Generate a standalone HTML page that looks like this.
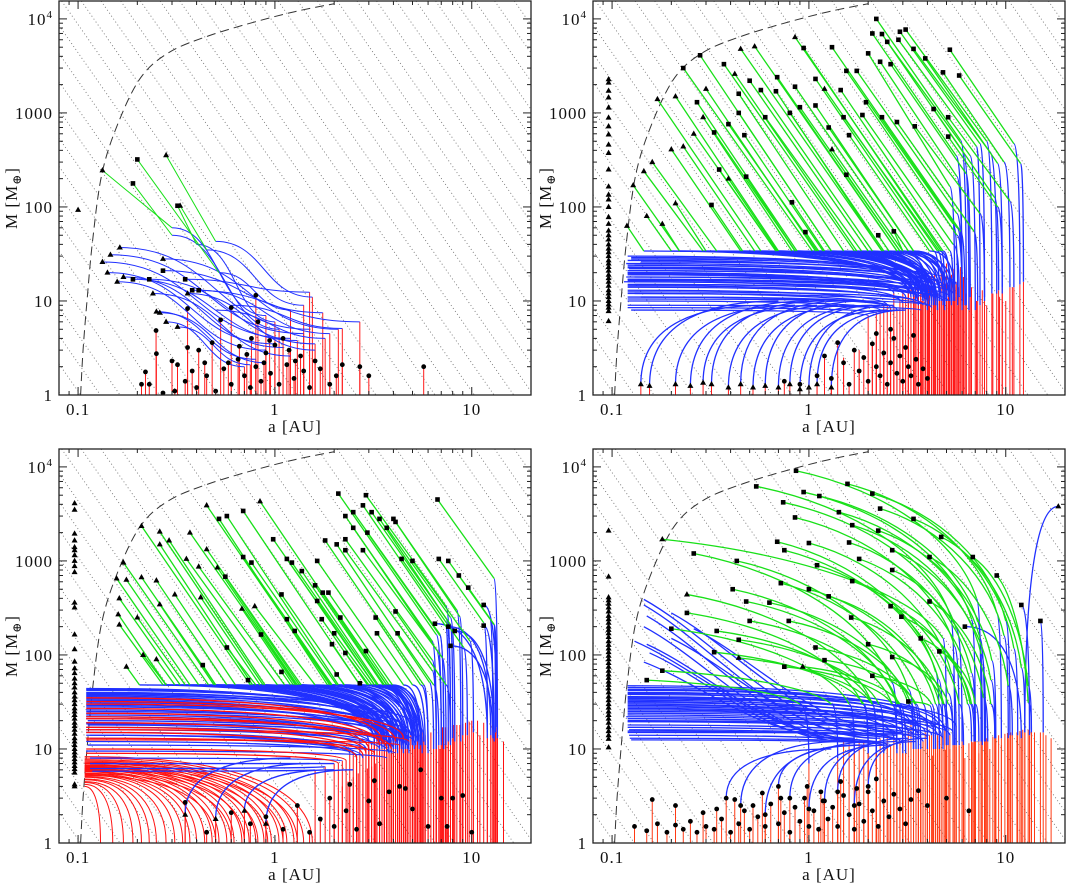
<!DOCTYPE html>
<html><head><meta charset="utf-8"><style>
html,body{margin:0;padding:0;background:#fff;width:1067px;height:888px;overflow:hidden;}
svg{display:block;}
text{font-family:"Liberation Serif","DejaVu Serif",serif;fill:#111;}
</style></head>
<body>
<svg id="chart" width="1067" height="888" viewBox="0 0 1067 888" xmlns="http://www.w3.org/2000/svg"></svg>
<script>
const NS='http://www.w3.org/2000/svg';
const svg=document.getElementById('chart');
const PW=472, PH=394;
const A_MIN=0.08, A_MAX=20, M_MIN=1, M_MAX=15500;
const panelOrigins=[[59,1],[593,1],[59,449],[593,449]];
const xTickMajor=[0.1,1,10];
const xTickLabels=['0.1','1','10'];
const yTickMajor=[1,10,100,1000,10000];
const yTickLabels=['1','10','100','1000','10'];
const limitCurveA=[0.103,0.106,0.111,0.1184,0.132,0.159,0.208,0.29,0.46,0.83,1.32,2.0];
const limitCurveM=[1,3,10,43,222,760,2370,4400,6600,9550,12200,14500];
const isoOffsets=[-6,-5.7,-5.4,-5.1,-4.8,-4.5,-4.2,-3.9,-3.6,-3.3,-3,-2.7,-2.4,-2.1,-1.8,-1.5,-1.2,-0.9,-0.6,-0.3,0,0.3,0.6,0.9,1.2,1.5,1.8,2.1,2.4,2.7,3,3.3,3.6,3.9,4.2,4.5,4.8,5.1,5.4,5.7,6,6.3,6.6,6.9,7.2,7.5];

const p1Tracks=[[1.5,5,0.163,37,0.163,37,1],[1.2,4,0.133,26,0.133,26,1],[1.4,4.5,0.146,31,0.146,31,1],[1.0,3.5,0.141,20,0.141,20,1],[0.9,3,0.158,16,0.158,16,1],[1.1,3.2,0.17,18,0.17,18,1],[1.3,3.8,0.19,17,0.19,17,2],[1.6,3.5,0.23,17,0.23,17,2],[1.75,7.5,0.27,21,0.27,21,2],[2.1,5,0.27,28,0.27,28,1],[1.5,12.4,0.35,17,0.35,17,2],[2.7,6,0.38,13,0.38,13,2],[1.9,4.5,0.41,13,0.41,13,2],[1.2,2.6,0.24,12,0.24,12,1],[0.8,2.4,0.25,7.7,0.25,7.7,1],[0.9,2.2,0.26,7.5,0.26,7.5,1],[0.7,2.0,0.28,6,0.28,6,1],[0.75,2.1,0.32,5.3,0.32,5.3,1],[1.6,3,0.36,12,0.36,12,1],[1.2,8,0.52,20,0.2,320,2],[1.55,11,0.5,43,0.28,355,1],[1.0,6,0.4,40,0.32,103,2],[1.4,9,0.45,35,0.33,103,1],[0.9,7,0.3,60,0.133,245,1],[1.05,5,0.3,50,0.19,178,2],[2.2,5.1,0.6,9,0.6,9,-1],[1.8,4,0.5,8,0.5,8,-1]];
const p1Circles=[[0.249,4.85],[0.25,2.75],[0.3,2.3],[0.32,2.1],[0.22,1.76],[0.21,1.3],[0.36,8.3],[0.36,3.2],[0.41,3],[0.44,2.2],[0.48,3.6],[0.53,6.3],[0.6,8.5],[0.76,4],[0.8,11.5],[0.82,6],[0.94,3.8],[1.0,3.4],[1.1,4],[1.27,2.3],[1.35,2.6],[1.6,2.3],[2.7,2],[3.0,1.6],[5.7,2],[0.23,1.3],[0.27,1.05],[0.31,1.1],[0.35,1.4],[0.4,1.2],[0.45,1.6],[0.5,1.1],[0.55,1.9],[0.6,1.3],[0.65,2.4],[0.7,1.6],[0.75,1.2],[0.8,2],[0.85,1.4],[0.9,2.8],[0.95,1.7],[1.05,1.3],[1.15,2.1],[1.25,1.5],[1.4,1.8],[1.5,1.2],[1.7,1.9],[1.9,1.3],[2.05,1.6],[2.2,2.1],[0.66,3.3],[0.72,2.7],[0.88,2.2],[1.18,3],[0.58,2.2],[0.38,1.8]];
const p1Column=[93];

const p2Tracks=[[6.3,9,5.9,510,2.2,10000,2],[6,10,5.6,350,2.1,7000,2],[6.5,8,6.1,375,2.35,6900,2],[7.8,11,7.4,470,2.9,7300,2],[8.5,12,8,500,3.1,7700,2],[7.4,9,7.1,440,2.85,6000,2],[7,8,6.6,350,2.5,5700,2],[9,12,8.3,385,3.4,4800,2],[11.8,15,11,470,5.2,4700,2],[5.2,10,4.8,34,0.85,6400,1],[4.9,9,4.7,34,0.94,4900,2],[6,10,5.65,60,1.31,5000,2],[4,12,2.8,34,0.53,5100,1],[3.8,10,2.35,34,0.45,4800,1],[3.5,11,1.3,34,0.28,4100,2],[3.6,12,1.04,34,0.23,3000,2],[4.2,9,1.7,34,0.37,3300,2],[4,11,1.75,34,0.42,2600,1],[4.5,8,2.8,34,0.69,2400,2],[5.5,10,5.2,165,2,4300,2],[6,9,5.65,210,2.3,3500,2],[6.6,11,6.3,225,2.6,3300,2],[9.6,14,9.1,290,3.9,3800,2],[10.5,14,9.8,300,4.8,2700,2],[12.3,16,11.9,290,5.8,2500,2],[5.7,9,5.4,66,1.55,2800,2],[6,8,5.65,85,1.75,2800,2],[4.6,10,4.3,34,1.08,2300,2],[4.8,9,4.5,34,1.2,1800,1],[5.4,10,5.2,34,1.45,1750,2],[4.6,10,3.2,34,0.85,1900,2],[4.3,9,2.35,34,0.68,1700,2],[4,8,2.1,34,0.57,1750,2],[4.1,12,2,34,0.5,2200,2],[3.8,10,1.08,34,0.3,1800,1],[3.6,11,0.7,34,0.21,1500,1],[3.7,13,0.57,34,0.17,1400,1],[3.9,9,0.87,34,0.27,1300,2],[4.2,10,1.5,34,0.44,1600,2],[4.4,11,1.3,34,0.44,1000,2],[4.5,9,1.85,34,0.6,900,2],[4.7,10,2.4,34,0.8,1000,2],[4.9,8,2.9,34,0.9,1150,2],[5,10,3.4,34,1.08,1200,2],[5.2,11,3.4,34,1.26,700,2],[5.3,9,4.6,34,1.5,900,2],[5.5,12,4.1,34,1.6,580,2],[6,10,5.65,50,1.95,1300,2],[5.8,11,5.4,40,1.87,950,2],[6.2,9,5.9,55,2.35,900,2],[7.2,10,6.9,55,2.8,800,2],[11,14,10.5,115,5.1,900,2],[9.6,12,9.1,100,5.1,560,2],[9.2,13,8.8,125,4.3,1100,2],[7.8,10,7.4,85,3.45,720,2],[4,11,0.82,34,0.29,900,1],[3.7,12,0.53,34,0.23,440,1],[3.5,10,0.45,34,0.2,410,1],[3.9,11,0.68,34,0.26,600,1],[4.1,9,0.85,34,0.33,620,2],[4.4,10,1.1,34,0.39,760,2],[4.6,12,1.18,34,0.47,580,2],[4,10,0.68,34,0.35,250,2],[4.2,11,0.69,34,0.39,200,1],[4.4,9,0.85,34,0.48,210,2],[3.4,12,0.34,34,0.16,300,1],[3.5,10,0.29,34,0.145,240,1],[3.3,11,0.22,34,0.128,170,1],[3.2,12,0.145,34,0.119,63,1],[3.6,9,0.3,34,0.21,109,1],[3.4,11,0.22,34,0.18,66,1],[3.8,10,0.46,34,0.32,105,2],[3.2,12,0.2,34,0.15,80,1],[4.5,10,1.2,34,0.82,112,2],[4.3,11,1.12,34,0.96,54,2],[5,10,3,34,1.31,410,1],[5.1,11,2.9,34,1.55,220,2],[5.2,10,2.55,34,2.25,50,2],[5.4,12,3,34,2.7,55,2]];
const p2Band=[[3,12,0.12,20],[3.5,14,0.12,24],[4,10,0.115,16],[3.8,9,0.12,14],[4.2,11,0.118,18],[2.8,8,0.12,12],[3.2,13,0.122,22],[4.5,12,0.125,19],[3.6,15,0.12,27],[5,13,0.12,21],[2.5,9,0.12,13],[4.8,10,0.12,15],[3.3,16,0.12,30],[4.4,14,0.118,25],[5.2,11,0.12,17],[2.9,10,0.12,16],[3.9,12,0.12,23],[4.6,15,0.125,28],[3.1,11,0.12,19],[2.6,8.5,0.12,11],[4.1,9,0.12,10.5],[3.7,8,0.12,9],[5.4,12,0.13,18],[2.2,7.5,0.12,8.5],[3.4,10,0.12,12.5],[4.3,13,0.12,21],[2.4,9,0.14,11],[4.9,14,0.13,24],[3.6,11,0.12,17],[2.7,12,0.12,20],[5.6,15,0.14,26],[4,16,0.125,29],[3,9.5,0.12,14.5],[4.7,11,0.12,16.5],[2.3,8,0.12,10],[3.8,13,0.12,22.5],[5.1,10,0.13,15],[3.3,12,0.12,19.5],[4.2,8.5,0.13,12],[2,7,0.125,8]];
const p2Desc=[[0.6,9,0.14,1.3],[0.7,10,0.155,1.25],[0.85,9,0.21,1.3],[1.0,10,0.25,1.25],[1.1,9,0.29,1.35],[1.2,10,0.32,1.3],[1.4,9,0.39,1.2],[1.5,10,0.45,1.3],[1.7,9,0.52,1.2],[1.9,10,0.6,1.25],[2.1,9,0.7,1.2],[2.3,9,0.8,1.3],[2.5,8,0.9,1.15],[2.7,9,1.0,1.2],[2.9,8,1.1,1.3],[3.1,8,1.3,1.2]];
const p2Circles=[[1.3,1.5],[1.5,2.2],[1.6,1.3],[1.7,3],[1.8,1.8],[1.9,2.5],[2,1.4],[2.1,3.5],[2.2,2],[2.3,1.6],[2.4,2.8],[2.5,1.3],[2.6,2.2],[2.7,4],[2.8,1.7],[2.9,2.6],[3,1.4],[3.1,3.2],[3.2,2],[3.3,1.6],[3.5,2.4],[3.6,1.3],[3.8,1.9],[4,1.5],[1.4,3.6],[1.2,2.6],[1.1,1.6],[0.9,1.3],[0.75,1.4],[2.2,4.5],[2.6,5],[3.4,4.3]];
const p2Red=[[3.6,15],[3.9,18],[4.2,20],[4.4,14],[4.7,22],[5,25],[5.3,19],[5.6,16],[5.9,23],[6.3,12],[6.7,14],[7.1,10],[7.6,13],[8,9],[8.6,12],[9.3,11],[10,10],[10.8,14],[4.5,9],[4.9,12],[5.5,11],[6,8],[3.3,7],[3,6],[2.7,5],[2.4,4],[2.1,3.5],[1.8,3],[1.5,2.5],[4.05,16],[4.35,19],[4.85,21],[5.15,17],[5.45,22],[5.75,14],[6.1,18],[6.5,10],[3.45,12],[3.75,10]];
const p2Column=[2280,2100,1720,1460,1140,890,720,590,460,375,250,165,135,120,100,78,66,56,50,45,40,36,33,30,27,25,23,21,19,17.5,16,14.5,13,12,11,10,9.2,8.5,7.8,6.1];

const p3Tracks=[[7,12,6.6,165,2.1,5200,2],[7.8,13,7.4,330,2.9,5000,2],[13.5,16,13,650,6.7,4500,2],[5,12,3.6,48,0.84,4300,1],[4.5,10,1.9,48,0.45,3900,1],[4.8,11,2.7,48,0.69,3400,2],[4.2,9,2.1,48,0.57,3000,2],[4,12,1.85,48,0.52,2800,2],[7,11,6.6,115,2.28,3000,2],[7.2,10,6.9,165,2.5,3300,2],[7.6,12,7.4,200,2.8,3900,2],[8,13,7.8,210,3.1,3300,2],[8.8,12,8.4,300,4,2800,2],[9,14,8.7,255,4.1,2600,2],[7.8,11,7.4,245,3.4,2800,2],[8.2,12,7.8,250,3.7,2250,2],[7.2,10,6.9,160,2.95,2000,2],[6.6,11,6.3,140,2.5,2250,2],[4,10,1.29,48,0.37,2000,1],[3.8,11,0.87,48,0.26,2050,1],[3.5,12,0.75,48,0.21,2350,1],[3.9,9,0.77,48,0.26,1500,1],[3.7,10,0.89,48,0.29,1650,1],[4.8,11,3.2,48,0.98,1700,2],[6,9,5.7,48,1.8,1650,2],[6.4,10,6.1,51,2.06,1500,2],[6.6,12,6.3,88,2.28,1700,2],[6.6,10,6.3,68,2.28,1300,2],[7.4,11,7.1,93,2.8,1300,2],[9.5,14,9.1,120,4.4,1050,2],[10.2,15,9.8,140,5,1000,2],[12,15,11.5,220,6.8,1050,2],[12.8,16,12.4,240,7.6,1000,2],[13.4,17,13,210,8.6,700,2],[13.2,15,13,210,9.6,520,2],[13.5,13,11.5,340,11.5,340,2],[13,12,11.5,205,11.5,205,2],[4.1,10,1.03,48,0.355,1050,1],[4.3,12,1.36,48,0.45,1330,1],[4.2,11,1.12,48,0.41,870,1],[4.4,10,1.3,48,0.51,850,1],[4.5,9,1.33,48,0.56,680,2],[4.6,11,1.95,48,0.69,1100,2],[4.7,12,2.06,48,0.76,960,2],[5,11,3.2,48,1.15,1050,2],[5.1,10,3.3,48,1.22,960,2],[5.2,12,3.35,48,1.37,780,2],[5.5,11,4.5,48,1.64,1000,2],[3.6,12,0.46,48,0.17,960,1],[3.4,11,0.37,48,0.157,650,1],[3.5,10,0.41,48,0.176,630,1],[3.7,13,0.5,48,0.21,670,1],[3.8,12,0.57,48,0.25,620,1],[3.9,10,0.63,48,0.31,440,1],[4.1,11,0.84,48,0.42,410,1],[3.8,9,0.49,48,0.26,345,1],[3.3,12,0.33,48,0.162,400,1],[3.4,10,0.28,48,0.16,270,1],[3.6,11,0.35,48,0.2,250,1],[3.2,12,0.27,48,0.162,210,1],[4.2,10,0.8,48,0.57,120,2],[4.4,11,1.24,48,0.68,310,1],[4.5,12,1.27,48,0.85,165,2],[4.6,10,1.6,48,0.79,330,1],[5,11,2.25,48,1.08,440,2],[4.8,9,1.9,48,1.15,240,2],[5,12,1.93,48,1.26,180,2],[5.4,10,3.55,48,1.6,550,2],[5.5,11,3.7,48,1.75,460,2],[5.3,12,3.2,48,1.64,375,2],[5.6,10,3.95,48,1.87,460,2],[5.2,11,2.95,48,1.73,240,2],[5.6,9,3.7,48,2.15,250,2],[5.3,12,3.1,48,2,170,2],[5.1,10,2.7,48,1.95,130,2],[5.4,11,3,48,2.28,105,2],[5.7,12,3.8,48,2.9,110,2],[6,10,5.5,48,3.25,250,2],[5.8,11,5,48,3.3,170,2],[7.8,12,7.4,48,4.1,290,2],[6.8,11,6.4,48,4.2,170,2],[12,13,6.5,215,6.5,215,2],[12.5,14,7.6,200,7.6,200,2],[13,12,8.2,180,8.2,180,2],[12.8,13,7.8,125,7.8,125,2],[3.2,12,0.205,48,0.176,75,1],[3.4,11,0.28,48,0.214,100,1],[3.6,10,0.31,48,0.25,90,1],[4,12,0.5,48,0.43,78,2],[4.3,11,0.75,48,0.73,54,2],[4.7,10,1.2,48,1.08,66,2],[5.2,11,2.25,48,2.06,62,2],[5.5,12,2.75,48,2.7,50,2]];
const p3Band=[[3,12,0.11,30],[3.5,14,0.11,36],[4,10,0.11,22],[3.8,9,0.112,18],[4.2,11,0.11,26],[2.8,8,0.115,14],[3.2,13,0.11,33],[4.5,12,0.11,28],[3.6,15,0.11,40],[5,13,0.11,31],[2.5,9,0.11,15],[4.8,10,0.112,20],[3.3,16,0.11,44],[4.4,14,0.11,38],[5.2,11,0.11,24],[2.9,10,0.11,17],[3.9,12,0.11,29],[4.6,15,0.11,42],[3.1,11,0.11,21],[2.6,8.5,0.11,12],[4.1,9,0.112,11],[3.7,8,0.11,9.5],[5.4,12,0.11,25],[2.2,7.5,0.115,8],[3.4,10,0.11,16],[4.3,13,0.11,34],[2.4,9,0.115,13],[4.9,14,0.11,37],[2,7,0.115,7],[1.8,6.5,0.115,6.2],[3.6,11,0.11,19],[2.7,12,0.11,23],[5.6,15,0.11,39],[4,16,0.11,43],[3,9.5,0.11,14],[4.7,11,0.11,18.5],[1.6,6,0.118,5.8]];
const p3RedBand=[[3.4,11,0.11,27],[2.9,9,0.11,19],[4.1,12,0.11,32],[3.7,10,0.11,24],[2.6,8,0.11,15],[4.5,13,0.11,30],[3.2,9,0.11,13],[2.3,7.5,0.11,10],[3.9,10,0.11,21],[2.8,8.5,0.11,17],[4.3,11,0.11,12.5],[3.5,12,0.11,35],[2.1,7,0.11,9],[3,10,0.11,22],[4.8,12,0.11,16]];
const p3Arcs=[[0.13,4],[0.15,4.2],[0.17,4.4],[0.19,4.5],[0.21,4.7],[0.23,4.8],[0.25,5],[0.28,5.1],[0.31,5.3],[0.34,5.4],[0.37,5.5],[0.4,5.7],[0.44,5.8],[0.48,6],[0.52,6.1],[0.57,6.2],[0.62,6.4],[0.68,6.5],[0.74,6.7],[0.8,6.8],[0.88,7],[0.96,7.2],[1.05,7.3],[1.15,7.5],[1.25,7.7],[1.4,8],[1.55,8.3],[0.5,5.2],[0.6,5.5],[0.7,5.9],[0.82,6.1],[0.92,6.3],[1.1,6.6],[1.3,7]];
const p3Desc=[[1.2,8,0.35,2],[1.5,7,0.5,1.8],[2,6,0.7,2.2],[2.5,6,0.9,1.6]];
const p3Circles=[[0.6,2.1],[0.75,1.6],[0.9,1.9],[1.1,1.4],[1.3,2.5],[1.5,1.3],[1.7,1.8],[2,1.5],[2.3,2.2],[2.6,1.4],[3,2.8],[3.4,1.6],[3.8,3.5],[4.3,4],[5,2.3],[6,1.5],[7,3],[7.5,1.5],[9,3.2],[4.6,3.8],[0.45,1.3],[0.35,2.7],[1.9,3],[2.4,4.2],[3.2,4.6],[5.5,6],[8,3],[10,1.3]];
const p3Red=[[2.2,4],[2.5,5],[2.8,6],[3.1,6.5],[3.4,8],[3.8,9],[4.2,10],[4.6,11],[5,12],[5.4,13],[5.8,14],[6.2,15],[6.6,16],[7.1,17],[7.6,17],[8.1,18],[8.7,18],[9.3,19],[10,20],[10.7,20],[11.5,19],[12.5,18],[13.5,15],[14.5,12],[6.9,10],[5.2,8],[4,6.5],[9,12],[11,14],[7.8,11],[2.35,4.5],[2.65,5.5],[2.95,6.2],[3.25,7],[3.6,8.5],[4.4,10.5],[4.8,11.5],[5.6,13.5],[6.4,15.5],[7.35,17],[8.4,18],[9,18.5],[9.7,19.5]];
const p3Column=[4100,3500,1950,1650,1400,1300,1150,1000,880,760,360,320,165,115,85,72,64,56,50,45,40,36,33,30,27,25,23,21,19,17.5,16,14.5,13,12,11,10,9.2,8.5,7.8,7.2,6.6,6.1,5.6,4.2,4];

const p4Tracks=[[7.5,12,7.1,400,0.86,9100,2],[5.5,11,5.2,270,0.54,6200,2],[9.5,13,9,280,1.57,6600,2],[7,12,6.7,240,0.94,5400,2],[10.5,14,10,230,2.1,5200,2],[7.6,11,7.2,225,1.13,4900,2],[6,12,5.6,190,0.74,4200,2],[10.3,13,9.8,160,2.3,3600,2],[7.8,12,7.4,150,1.42,3300,2],[11.5,14,11,117,3.4,2800,2],[5.8,11,5.5,122,0.85,2900,2],[7.9,12,7.5,102,1.66,2400,2],[8.9,13,8.5,87,2.25,2100,2],[12.5,15,12,73,4.7,1800,2],[4.6,10,4.4,66,0.69,1600,2],[5.6,11,5.3,63,1,1550,2],[7,12,6.7,64,1.6,1570,2],[8.8,13,8.4,54,2.65,1300,2],[4.8,10,4.55,55,0.75,1300,2],[2.8,9,2.63,51,0.26,1200,2],[3.4,10,3.2,43,0.43,1000,2],[5.4,11,5.1,39,1.1,900,2],[7,12,6.7,45,1.8,1050,2],[8.1,12,7.7,35,2.65,800,2],[10.8,14,10.3,47,4.1,1100,2],[13.5,15,13,47,6.8,1100,2],[13.5,16,13,31,9,700,2],[13.2,14,12,340,12,340,2],[15.5,15,15,230,15,230,2],[12.5,15,18.5,3800,18.5,3800,1],[6.1,11,5.8,30,1.66,610,2],[4,10,3.8,30,0.72,580,2],[4.6,11,4.4,30,1,500,2],[3,10,2.8,30,0.41,500,2],[3,9,2.85,30,0.48,370,2],[2.2,9,2.1,30,0.24,440,1],[3.4,10,3.2,30,0.63,360,2],[4.8,11,4.6,30,1.26,420,2],[6.7,12,6.4,30,2.6,330,2],[8.8,13,8.4,30,4.1,370,2],[12,13,6.2,200,6.2,200,2],[2,9,1.87,30,0.24,280,2],[1.7,9,1.6,30,0.2,190,2],[2.8,10,2.65,30,0.5,230,2],[3.5,10,3.3,30,0.79,230,2],[5.1,11,4.85,30,1.64,250,2],[6.9,12,6.6,30,2.95,255,2],[2.2,9,2.1,30,0.34,180,2],[2.4,9,2.27,30,0.44,145,2],[3.6,10,3.45,30,1.08,120,2],[5,11,4.8,30,2,130,2],[7,12,6.7,30,3.7,150,2],[1.4,8,1.3,30,0.18,68,2],[2,9,1.9,30,0.33,107,2],[2.8,10,2.65,30,0.75,75,2],[3.7,10,3.5,30,1.2,88,2],[5.4,11,5.1,30,2.65,95,2],[7.3,12,7,30,4.6,109,2],[1,7,0.9,30,0.15,54,2],[4.4,10,4.2,30,2.1,60,2],[4.3,10,4.1,29,3.2,32,2],[5,11,4.8,150,0.18,1700,1],[2.2,9,2.1,30,0.44,93,1],[3.1,9,2.9,30,0.93,75,1]];
const p4Band=[[3,14,0.12,30],[3.5,16,0.12,36],[4,13,0.118,22],[3.8,12,0.12,18],[4.2,14,0.12,26],[2.8,12,0.122,16],[3.2,15,0.12,33],[4.5,14,0.12,28],[3.6,17,0.12,40],[5,15,0.12,31],[2.5,11,0.122,14],[4.8,13,0.12,20],[3.3,18,0.12,45],[4.4,16,0.12,38],[5.2,14,0.12,24],[2.9,12,0.12,17],[3.9,15,0.12,29],[4.6,17,0.12,42],[3.1,13,0.12,21],[2.6,11,0.123,13],[4.1,14,0.12,15],[3.7,13,0.12,19.5],[5.4,15,0.12,25],[3.4,14,0.12,23],[4.3,16,0.12,34],[2.4,11,0.125,12.5],[4.9,16,0.12,47],[3.6,14,0.12,27],[2.7,13,0.12,32],[5.6,17,0.12,39],[4,18,0.12,43],[3,12,0.12,15.5],[4.7,14,0.12,35]];
const p4Up=[[2.5,14,0.145,390],[2.2,13,0.145,340],[2,12,0.15,260],[1.8,12,0.145,200],[1.7,13,0.15,130],[1.6,12,0.155,105],[1.5,13,0.145,84],[1.9,12,0.13,140],[2.8,14,0.2,280],[3,15,0.26,190],[2.3,13,0.2,150]];
const p4Desc=[[1.5,12,0.45,2.5],[1.8,11,0.6,2],[2.2,12,0.8,3],[2.5,11,1,2.3],[2.8,12,1.2,2.8],[3.2,13,1.4,3.5],[3.5,12,1.7,2.5],[1.3,10,0.38,3],[2,11,0.7,4],[4,13,2,4]];
const p4Circles=[[0.13,1.5],[0.15,1.35],[0.17,1.6],[0.19,1.3],[0.21,1.55],[0.23,1.4],[0.25,1.7],[0.27,1.3],[0.3,1.5],[0.33,1.4],[0.36,1.8],[0.4,1.3],[0.44,1.6],[0.47,2.2],[0.5,1.4],[0.55,1.9],[0.6,1.5],[0.64,2.6],[0.7,1.6],[0.75,2.1],[0.8,1.3],[0.85,2.4],[0.9,1.7],[0.95,3],[1,1.5],[1.06,2.2],[1.12,1.4],[1.18,2.8],[1.25,1.8],[1.32,2.4],[1.4,1.5],[1.5,3.2],[1.6,2],[1.7,1.4],[1.8,2.6],[1.9,1.7],[2,3.5],[2.1,2.2],[2.25,1.5],[2.4,2.8],[2.55,1.9],[2.7,3.3],[2.9,2.3],[3.1,1.6],[3.3,2.9],[0.58,3.4],[0.98,4],[0.42,2.9],[1.45,4.5],[2.2,4.8],[0.34,2.3],[0.52,2.5],[0.72,3],[1.15,3.5],[1.75,3.8],[3.6,3.6],[4,2.5],[5,3],[6.5,2.2],[0.16,2.9],[0.21,2.5],[0.29,2.1]];
const p4Red=[[2.6,5],[2.9,6],[3.2,6.5],[3.5,7],[3.8,7.5],[4.1,8],[4.4,9],[4.8,9.5],[5.2,10],[5.6,10.5],[6,11],[6.5,11.5],[7,12],[7.5,12.5],[8,13],[8.6,13.5],[9.2,14],[9.9,14.5],[10.6,15],[11.4,15],[12.2,16],[13,16],[14,15],[15,15],[16,14],[17,13],[4.6,6],[5.4,7],[6.2,8],[7.3,9],[8.3,10],[9.5,11],[3,4],[3.7,5],[2.3,3.5],[2,3],[4.25,8.5],[4.95,9.8],[5.8,10.8],[6.8,11.8],[7.8,12.8],[8.9,13.8],[10.2,14.8],[11.8,15.5],[13.5,15.5]];
const p4Column=[2100,680,410,380,350,320,290,260,240,220,200,185,170,155,140,128,117,107,98,90,82,75,68,62,57,52,48,44,40,36,33,30,27.5,25,23,21,19,17,15.5,14,12.8,10.4];

const panelData=[
 {tracks:p1Tracks,band:[],redBand:[],desc:[],up:[],arcs:[],circles:p1Circles,red:[],column:p1Column,colA:0.1,blueShape:'S',greenShape:'line',red1:'#ff1a1a',lw:1},
 {tracks:p2Tracks,band:p2Band,redBand:[],desc:p2Desc,up:[],arcs:[],circles:p2Circles,red:p2Red,column:p2Column,colA:0.096,blueShape:'rise',greenShape:'line',red1:'#ff1a1a',lw:1.3},
 {tracks:p3Tracks,band:p3Band,redBand:p3RedBand,desc:p3Desc,up:[],arcs:p3Arcs,circles:p3Circles,red:p3Red,column:p3Column,colA:0.096,blueShape:'rise',greenShape:'line',red1:'#ff1010',lw:1.3},
 {tracks:p4Tracks,band:p4Band,redBand:[],desc:p4Desc,up:p4Up,arcs:[],circles:p4Circles,red:p4Red,column:p4Column,colA:0.096,blueShape:'rise',greenShape:'curve',red1:'#ff3a14',lw:1.3}
];
const BLUE='#2030ff', GREEN='#18e018';

function mk(tag,parent){const e=document.createElementNS(NS,tag);parent.appendChild(e);return e;}
function set(e,o){for(const k in o)e.setAttribute(k,o[k]);}

function drawPanel(idx){
  const d=panelData[idx];
  const L=panelOrigins[idx][0], T=panelOrigins[idx][1];
  const la0=Math.log10(A_MIN), la1=Math.log10(A_MAX), lm1=Math.log10(M_MAX);
  const X=a=>L+(Math.log10(a)-la0)/(la1-la0)*PW;
  const Y=m=>T+PH-(Math.log10(m)-Math.log10(M_MIN))/(lm1-Math.log10(M_MIN))*PH;
  const pg=mk('g',svg);
  
  
  const defs=mk('defs',pg);
  const cp=mk('clipPath',defs);
  set(cp,{id:'clip'+idx});
  const cr=mk('rect',cp);
  set(cr,{x:L,y:T,width:PW,height:PH});
  const plot=mk('g',pg);
  
  
  set(plot,{'clip-path':'url(#clip'+idx+')'});

  const iso=mk('g',plot);
  
  
  set(iso,{stroke:'#777','stroke-width':0.9,'stroke-dasharray':'1 2.6',fill:'none'});
  isoOffsets.forEach(c=>{
    const cc=1.24+c;
    const lo=Math.max(la0,(cc-lm1)/3), hi=Math.min(la1,cc/3);
    if(hi<=lo) return;
    const l=mk('line',iso);
    
    
    const aLo=Math.pow(10,lo), aHi=Math.pow(10,hi);
    set(l,{x1:X(aLo),y1:Y(Math.pow(10,cc-3*lo)),x2:X(aHi),y2:Y(Math.pow(10,cc-3*hi))});
  });

  const pts=limitCurveA.map((a,i)=>[X(a),Math.max(T,Y(limitCurveM[i]))]);
  let dd=`M${pts[0][0]},${pts[0][1]}`;
  for(let i=0;i<pts.length-1;i++){
    const p0=pts[Math.max(0,i-1)],p1=pts[i],p2=pts[i+1],p3=pts[Math.min(pts.length-1,i+2)];
    dd+=`C${p1[0]+(p2[0]-p0[0])/6},${p1[1]+(p2[1]-p0[1])/6} ${p2[0]-(p3[0]-p1[0])/6},${p2[1]-(p3[1]-p1[1])/6} ${p2[0]},${p2[1]}`;
  }
  const dc=mk('path',plot);
  
  
  set(dc,{d:dd,fill:'none',stroke:'#333','stroke-width':1,'stroke-dasharray':'9 5'});

  const gRed=mk('g',plot);
  
  
  set(gRed,{stroke:d.red1,'stroke-width':1,fill:'none'});
  const gBlue=mk('g',plot);
  
  
  set(gBlue,{stroke:BLUE,'stroke-width':d.lw,fill:'none'});
  const gGreen=mk('g',plot);
  
  
  set(gGreen,{stroke:GREEN,'stroke-width':d.lw,fill:'none'});
  const gRed2=mk('g',plot);
  
  
  set(gRed2,{stroke:d.red1,'stroke-width':d.lw,fill:'none'});
  const gMk=mk('g',plot);
  
  
  set(gMk,{fill:'#000',stroke:'none'});

  function vline(a,m){
    const l=mk('line',gRed);
    
    
    set(l,{x1:X(a),y1:Y(1),x2:X(a),y2:Y(m)});
  }
  function pathD(shape,x0,y0,x1,y1){
    if(shape==='S'){const xm=x0+0.5*(x1-x0);return `M${x0},${y0}C${xm},${y0} ${xm},${y1} ${x1},${y1}`;}
    if(shape==='fall'){return `M${x0},${y0}C${x0+0.5*(x1-x0)},${y0} ${x1},${y0+0.2*(y1-y0)} ${x1},${y1}`;}
    if(shape==='up'){return `M${x0},${y0}C${x0+0.4*(x1-x0)},${y0} ${x1+0.3*(x0-x1)},${y1+0.3*(y0-y1)} ${x1},${y1}`;}
    if(shape==='curve'){return `M${x0},${y0}C${x0+0.1*(x1-x0)},${y0+0.45*(y1-y0)} ${x1+0.5*(x0-x1)},${y1+0.15*(y0-y1)} ${x1},${y1}`;}
    if(shape==='line'){return `M${x0},${y0}L${x1},${y1}`;}
    return `M${x0},${y0}C${x0},${y0+0.7*(y1-y0)} ${x1+0.6*(x0-x1)},${y1} ${x1},${y1}`;
  }
  function curve(g,shape,a0,m0,a1,m1,name){
    const p=mk('path',g);
    
    
    set(p,{d:pathD(shape,X(a0),Y(m0),X(a1),Y(m1))});
  }
  function marker(type,a,m){
    const x=X(a),y=Y(m);
    if(type===0){const c=mk('circle',gMk);set(c,{cx:x,cy:y,r:2.4});}
    else if(type===1){const t=mk('polygon',gMk);set(t,{points:`${x},${y-3.3} ${x-3},${y+2} ${x+3},${y+2}`});}
    else if(type===2){const s=mk('rect',gMk);set(s,{x:x-2.3,y:y-2.3,width:4.6,height:4.6});}
  }

  d.red.forEach(r=>vline(r[0],r[1]));
  d.arcs.forEach(r=>curve(gRed,'rise',r[0],1,0.108,r[1],'red-arc-track'));
  d.circles.forEach(c=>{vline(c[0],c[1]);marker(0,c[0],c[1]);});
  d.tracks.forEach(t=>{
    vline(t[0],t[1]);
    if(t[0]!==t[2]||t[1]!==t[3]) curve(gBlue,d.blueShape,t[0],t[1],t[2],t[3],'blue-track');
    if(t[2]!==t[4]||t[3]!==t[5]) curve(gGreen,d.greenShape,t[2],t[3],t[4],t[5],'green-track');
    marker(t[6],t[4],t[5]);
  });
  d.band.forEach(b=>{vline(b[0],b[1]);curve(gBlue,'rise',b[0],b[1],b[2],b[3],'blue-band-track');});
  d.redBand.forEach(b=>{vline(b[0],b[1]);curve(gRed2,'rise',b[0],b[1],b[2],b[3],'red-band-track');});
  d.up.forEach(b=>{vline(b[0],b[1]);curve(gBlue,'up',b[0],b[1],b[2],b[3],'blue-rising-track');});
  d.desc.forEach(b=>{vline(b[2],b[3]);curve(gBlue,'fall',b[0],b[1],b[2],b[3],'blue-descending-track');marker(idx===3?0:1,b[2],b[3]);});
  d.column.forEach(m=>marker(1,d.colA,m));

  const ax=mk('g',pg);
  
  
  set(ax,{stroke:'#222','stroke-width':1,fill:'none'});
  const fr=mk('rect',ax);
  
  
  set(fr,{x:L,y:T,width:PW,height:PH,'stroke-width':1.3});
  for(let e=-2;e<=2;e++){for(let k=1;k<=9;k++){
    const a=k*Math.pow(10,e); if(a<A_MIN||a>A_MAX) continue;
    const len=k===1?8:4;
    const t1=mk('line',ax);
    set(t1,{x1:X(a),x2:X(a),y1:T+PH,y2:T+PH-len});
    const t2=mk('line',ax);
    set(t2,{x1:X(a),x2:X(a),y1:T,y2:T+len});
  }}
  for(let e=0;e<=4;e++){for(let k=1;k<=9;k++){
    const m=k*Math.pow(10,e); if(m>M_MAX) continue;
    const len=k===1?8:4;
    const t1=mk('line',ax);
    set(t1,{y1:Y(m),y2:Y(m),x1:L,x2:L+len});
    const t2=mk('line',ax);
    set(t2,{y1:Y(m),y2:Y(m),x1:L+PW,x2:L+PW-len});
  }}
  xTickMajor.forEach((a,i)=>{
    const tx=mk('text',pg);
    
    
    set(tx,{x:X(a),y:T+PH+20,'text-anchor':'middle','font-size':17,'letter-spacing':1});
    tx.textContent=xTickLabels[i];
  });
  yTickMajor.forEach((m,i)=>{
    const tx=mk('text',pg);
    
    
    set(tx,{x:L-6,y:Y(m)+6,'text-anchor':'end','font-size':17,'letter-spacing':1});
    tx.textContent=yTickLabels[i];
    if(m===10000){const sp=mk('tspan',tx);set(sp,{dy:-7,'font-size':11});sp.textContent='4';}
  });
  const xt=mk('text',pg);
  
  
  set(xt,{x:L+PW/2,y:T+PH+37,'text-anchor':'middle','font-size':17,'letter-spacing':1});
  xt.textContent='a [AU]';
  const yt=mk('text',pg);
  
  
  set(yt,{x:0,y:0,'text-anchor':'middle','font-size':17,'letter-spacing':1,transform:`translate(${L-42},${T+PH/2}) rotate(-90)`});
  yt.textContent='M [M';
  const sub=mk('tspan',yt);
  
  
  set(sub,{'font-size':12,dy:4});
  sub.textContent='⊕';
  const cl=mk('tspan',yt);
  
  
  set(cl,{dy:-4});
  cl.textContent=']';
}
for(let i=0;i<4;i++) drawPanel(i);
</script>
</body></html>
